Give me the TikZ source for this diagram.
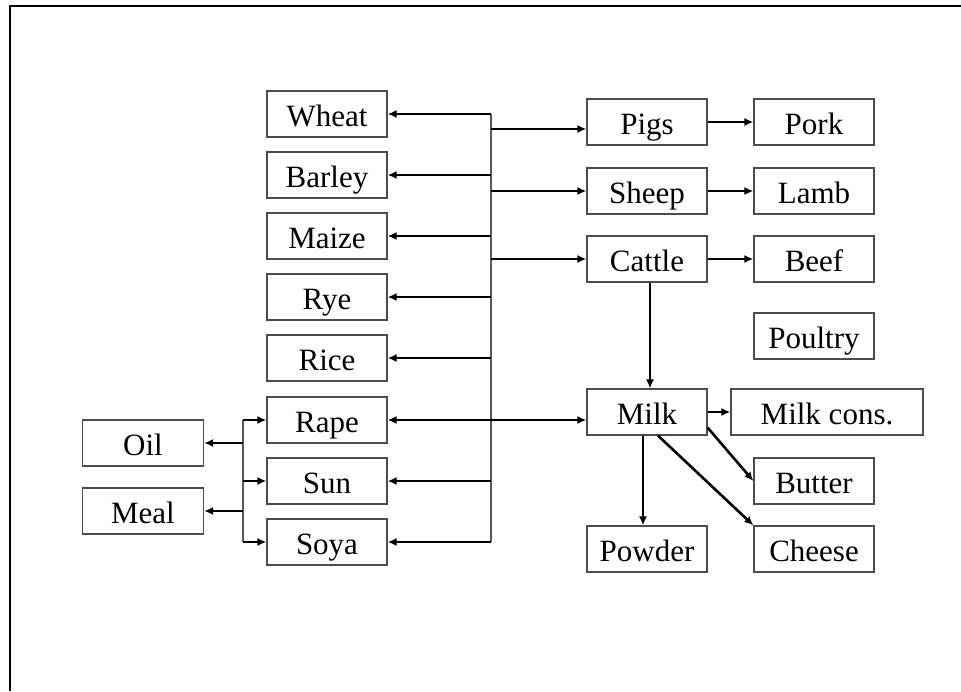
\documentclass[tikz,border=0pt]{standalone}
\usepackage{fontspec}
\setmainfont{Liberation Serif}
\usetikzlibrary{arrows.meta,calc}
\begin{document}
\begin{tikzpicture}[x=1pt,y=-1pt,
  box/.style={draw=black!70,line width=1.2pt,minimum width=120pt,minimum height=46pt,inner sep=0pt,text height=24pt,text depth=0pt,font=\fontsize{31}{31}\selectfont},
  tip/.tip={Latex[length=9pt,width=8pt]},
  arr/.style={line width=2.6pt,-tip},
  trunk/.style={draw=black!65,line width=1.4pt}]
\useasboundingbox (0,0) rectangle (961,691);
\draw[line width=2.5pt] (10,691) -- (10,6) -- (961,6);
% crops
\node[box] (wheat) at (327,114) {Wheat};
\node[box] (barley) at (327,175) {Barley};
\node[box] (maize) at (327,236) {Maize};
\node[box] (rye) at (327,297) {Rye};
\node[box] (rice) at (327,358) {Rice};
\node[box] (rape) at (327,420) {Rape};
\node[box] (sun) at (327,481) {Sun};
\node[box] (soya) at (327,542) {Soya};
\node[box,minimum width=121pt] (oil) at (143,443) {Oil};
\node[box,minimum width=121pt] (meal) at (143,511) {Meal};
% animals
\node[box] (pigs) at (647,122) {Pigs};
\node[box] (sheep) at (647,191) {Sheep};
\node[box] (cattle) at (647,259) {Cattle};
\node[box] (milk) at (647,412) {Milk};
\node[box] (powder) at (647,549) {Powder};
\node[box] (pork) at (814,122) {Pork};
\node[box] (lamb) at (814,191) {Lamb};
\node[box] (beef) at (814,259) {Beef};
\node[box] (poultry) at (814,336) {Poultry};
\node[box] (butter) at (814,481) {Butter};
\node[box] (cheese) at (814,549) {Cheese};
\node[box,minimum width=192pt] (milkcons) at (827,412) {Milk cons.};
% trunk
\coordinate (ttop) at (491,114);
\coordinate (tbot) at (491,542);
\draw[trunk] (ttop) -- (tbot);
\foreach \n in {wheat,barley,maize,rye,rice,sun,soya}
  \draw[arr] (\n.east -| ttop) -- (\n.east);
\coordinate (tpigs) at (491,129);
\draw[arr] (tpigs) -- (tpigs -| pigs.west);
\draw[arr] (sheep.west -| ttop) -- (sheep.west);
\draw[arr] (cattle.west -| ttop) -- (cattle.west);
\draw[line width=2.6pt,tip-tip] (rape.east) -- (rape.east -| milk.west);
% meat
\draw[arr] (pigs.east) -- (pork.west);
\draw[arr] (sheep.east) -- (lamb.west);
\draw[arr] (cattle.east) -- (beef.west);
\draw[arr] ($(cattle.south)+(3,0)$) -- ($(milk.north)+(3,0)$);
% milk
\draw[arr] (milk.east) -- (milkcons.west);
\draw[arr] ($(milk.south east)+(0,-8)$) -- (butter.west);
\draw[arr] ($(milk.south)+(11,0)$) -- (cheese.north west);
\draw[arr] ($(milk.south)+(-4,0)$) -- ($(powder.north)+(-4,0)$);
% oilseeds
\coordinate (btop) at (243,420);
\coordinate (bbot) at (243,542);
\draw[trunk] (btop) -- (bbot);
\draw[arr] (btop) -- (rape.west);
\draw[arr] (sun.west -| btop) -- (sun.west);
\draw[arr] (bbot) -- (soya.west);
\draw[arr] (oil.east -| btop) -- (oil.east);
\draw[arr] (meal.east -| btop) -- (meal.east);
\end{tikzpicture}
\end{document}
